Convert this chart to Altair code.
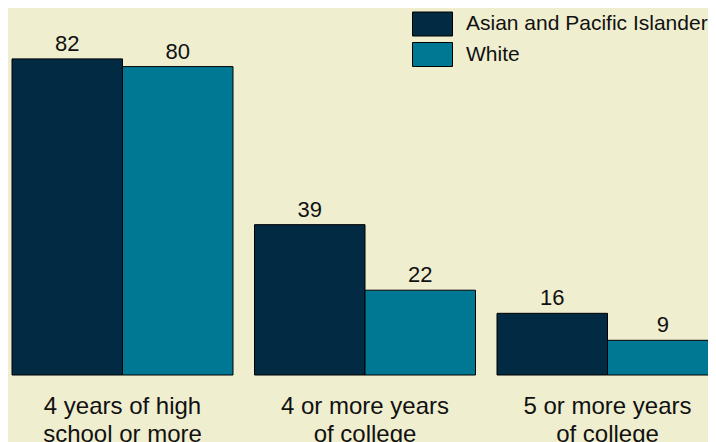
import altair as alt
import pandas as pd

categories = ["4 years of high|school or more", "4 or more years|of college", "5 or more years|of college"]
groups = ["Asian and Pacific Islander", "White"]
asian = [82, 39, 16]
white = [80, 22, 9]

rows = []
for c, a, w in zip(categories, asian, white):
    rows.append({"category": c, "group": groups[0], "value": a})
    rows.append({"category": c, "group": groups[1], "value": w})
df = pd.DataFrame(rows)

BG = "#efeecf"
colors = ["#022a42", "#007893"]

x = alt.X("category:N", sort=categories, title=None,
          scale=alt.Scale(range=[0, 714], paddingInner=0.0887, paddingOuter=0.0165),
          axis=alt.Axis(labelExpr="split(datum.label, '|')", domain=False, ticks=False,
                        labelAngle=0, labelFont="Liberation Sans",
                        labelFontSize=24, labelColor="#111111", labelPadding=19,
                        labelLineHeight=28, labelBaseline="top", labelLimit=300))
xo = alt.XOffset("group:N", sort=groups, scale=alt.Scale(paddingInner=0, paddingOuter=0))
y = alt.Y("value:Q", scale=alt.Scale(domain=[0, 95.2], nice=False, zero=True), axis=None)

bars = alt.Chart(df).mark_bar(stroke="#000000", strokeWidth=1, opacity=1).encode(
    x=x, xOffset=xo, y=y,
    color=alt.Color("group:N", sort=groups, scale=alt.Scale(domain=groups, range=colors),
                    legend=alt.Legend(title=None, orient="none", legendX=414, legendY=5.5,
                                      symbolType="M-2,-1.2H2V1.2H-2Z", symbolSize=400,
                                      symbolStrokeColor="#000000", symbolStrokeWidth=1,
                                      symbolOpacity=1, labelFont="Liberation Sans",
                                      labelFontSize=21, labelColor="#111111", labelOffset=23,
                                      labelLimit=400, rowPadding=1.5, padding=0))
)

labels = alt.Chart(df).mark_text(baseline="bottom", dy=-3, fontSize=22,
                                 font="Liberation Sans", color="#111111").encode(
    x=x, xOffset=xo, y=y, text=alt.Text("value:Q")
)

chart = alt.layer(bars, labels).properties(
    width=700, height=367,
    autosize=alt.AutoSizeParams(type="none"),
    padding={"left": 0, "top": 0, "right": 0, "bottom": 67},
    background=BG,
).configure_view(stroke=None, fill=BG)

chart.save("out.html", embed_options={"renderer": "svg", "actions": False})
